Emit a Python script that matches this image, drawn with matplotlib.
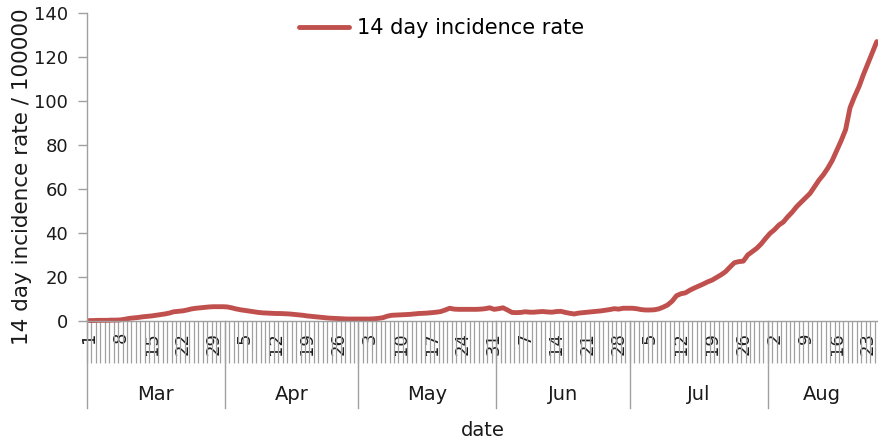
import numpy as np
import pandas as pd
import matplotlib
matplotlib.use("Agg")
import matplotlib.pyplot as plt
import matplotlib.transforms as mtransforms

# daily 14 day incidence rate per 100000, from 1 Mar
START = "2020-03-01"
rate = [
    0.2, 0.2, 0.3, 0.3, 0.3, 0.4, 0.4, 0.5,
    0.8, 1.2, 1.4, 1.6, 1.9, 2.1, 2.3, 2.6,
    2.9, 3.2, 3.6, 4.2, 4.4, 4.6, 5.0, 5.5,
    5.8, 6.0, 6.2, 6.4, 6.5, 6.5, 6.5, 6.4,
    6.0, 5.5, 5.1, 4.8, 4.5, 4.2, 3.9, 3.7,
    3.6, 3.5, 3.4, 3.4, 3.3, 3.2, 3.0, 2.8,
    2.6, 2.3, 2.1, 1.9, 1.7, 1.5, 1.3, 1.2,
    1.1, 1.0, 0.9, 0.9, 0.9, 0.9, 0.9, 0.9,
    1.0, 1.2, 1.5, 2.2, 2.6, 2.7, 2.8, 2.9,
    3.0, 3.2, 3.4, 3.5, 3.6, 3.8, 4.0, 4.3,
    5.0, 5.8, 5.4, 5.3, 5.3, 5.3, 5.3, 5.3,
    5.4, 5.6, 6.0, 5.3, 5.6, 6.0, 5.0, 3.9,
    3.8, 3.9, 4.2, 4.0, 4.0, 4.2, 4.3, 4.1,
    4.0, 4.3, 4.4, 3.9, 3.5, 3.2, 3.6, 3.8,
    4.0, 4.2, 4.4, 4.6, 4.9, 5.2, 5.6, 5.4,
    5.8, 5.8, 5.8, 5.6, 5.2, 5.0, 5.0, 5.1,
    5.5, 6.3, 7.3, 9.0, 11.5, 12.4, 12.8, 14.0,
    15.0, 15.9, 16.8, 17.8, 18.6, 19.8, 21.0, 22.4,
    24.5, 26.5, 27.0, 27.2, 30.0, 31.5, 33.0, 35.0,
    37.5, 39.8, 41.5, 43.6, 45.0, 47.4, 49.5, 52.0,
    54.0, 56.0, 58.0, 61.0, 64.0, 66.5, 69.5, 73.0,
    77.5, 82.0, 87.0, 97.0, 102.0, 106.5, 112.0, 117.0,
    122.0, 127.0,
]
yticks = [0, 20, 40, 60, 80, 100, 120, 140]

n = len(rate)
dates = pd.date_range(START, periods=n, freq="D")
x = np.arange(n)

RED = "#C0504D"
GREY = "#A0A0A0"
TXT = "#1a1a1a"
plt.rcParams["font.family"] = ["DejaVu Sans"]

W, H = 879, 444
fig = plt.figure(figsize=(W / 100, H / 100), dpi=100)
ax = fig.add_axes([87 / W, 1 - 321 / H, 1 - 87 / W, (321 - 13) / H])

ax.plot(x, rate, color=RED, lw=3.5, solid_capstyle="round",
        label="14 day incidence rate", clip_on=False)

x_end = 176.7
ax.set_xlim(-0.5, x_end)
ax.set_ylim(0, 140)
ax.set_yticks(yticks)
ax.tick_params(axis="y", length=6.5, width=1, color=GREY, pad=7,
               labelsize=13, labelcolor=TXT)

for s in ["top", "right"]:
    ax.spines[s].set_visible(False)
for s in ["left", "bottom"]:
    ax.spines[s].set_color(GREY)
    ax.spines[s].set_linewidth(1)

# category ticks between days
ax.set_xticks(np.arange(-0.5, n, 1.0), minor=True)
ax.tick_params(axis="x", which="minor", length=30, width=0.9, color=GREY)
lab_idx = [i for i in range(n) if (i % 7) == 0]
ax.set_xticks(lab_idx)
ax.set_xticklabels([str(dates[i].day) for i in lab_idx], rotation=90,
                   fontsize=13, color=TXT)
ax.tick_params(axis="x", which="major", length=0, pad=8)

# month groups under the day labels
trans = mtransforms.blended_transform_factory(ax.transData, ax.transAxes)
sep_bottom = -(408 - 321) / (321 - 13)
month_lab_y = -(394 - 321) / (321 - 13)
months = dates.to_period("M")
starts = [i for i in range(n) if i == 0 or months[i] != months[i - 1]]
for k, s0 in enumerate(starts):
    b0 = s0 - 0.5
    b1 = (starts[k + 1] - 0.5) if k + 1 < len(starts) else x_end
    ax.plot([b0, b0], [0, sep_bottom], transform=trans, color=GREY,
            lw=1, clip_on=False)
    ax.text((b0 + min(b1, x_end)) / 2, month_lab_y, dates[s0].strftime("%b"),
            transform=trans, ha="center", va="center", fontsize=14,
            color=TXT)

ax.text(0.5, -(430 - 321) / (321 - 13), "date", transform=ax.transAxes,
        ha="center", va="center", fontsize=14, color=TXT)
fig.text(22 / W, 1 - 177 / H, "14 day incidence rate / 100000", rotation=90,
         ha="center", va="center", fontsize=15.5, color=TXT)

ax.legend(loc="upper left", bbox_to_anchor=((280 - 87) / (W - 87), 1.045),
          frameon=False, fontsize=15, handlelength=2.4, handletextpad=0.4)

fig.savefig("out.png", dpi=100)
